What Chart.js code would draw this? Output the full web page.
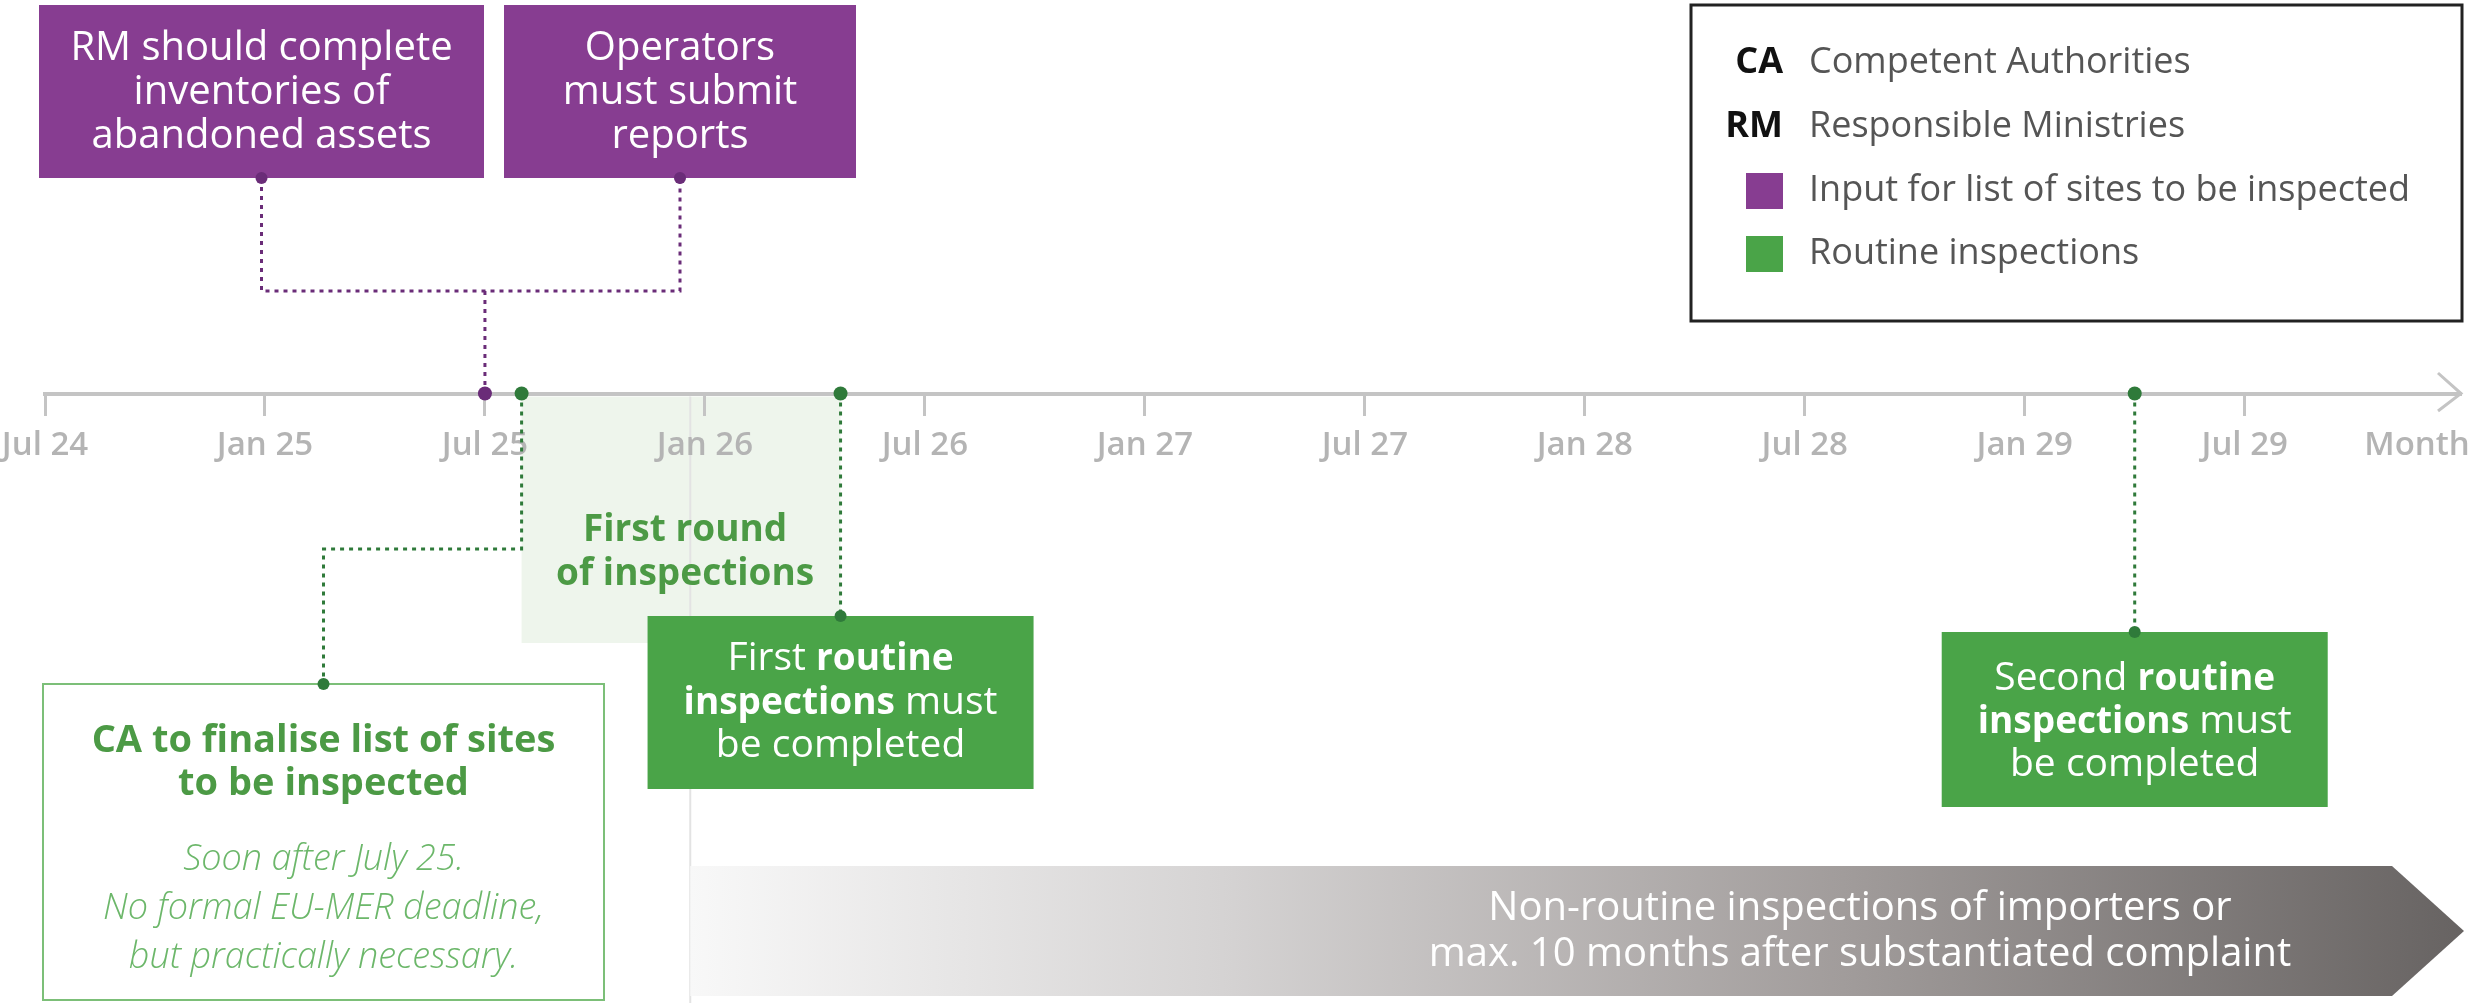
<!DOCTYPE html>
<html>
<head>
<meta charset="utf-8">
<script src="https://cdn.jsdelivr.net/npm/chart.js@4.4.1/dist/chart.umd.min.js"></script>
<style>
  html, body { margin: 0; padding: 0; background: #fff; }
  canvas { display: block; }
</style>
</head>
<body>
<canvas id="timeline" width="2471" height="1003"></canvas>
<script>
// months counted from July 2024
const tickMonths = [0, 6, 12, 18, 24, 30, 36, 42, 48, 54, 60];
const tickLabels = ["Jul 24", "Jan 25", "Jul 25", "Jan 26", "Jul 26", "Jan 27", "Jul 27", "Jan 28", "Jul 28", "Jan 29", "Jul 29"];
const axisTitle = "Month";
const axisTitleAt = 64.7;
const axisEnd = 65.9;

const inputMilestones = [12];              // Jul 25
const routineMilestones = [13, 21.7, 57];  // list finalised, 1st and 2nd routine rounds
const firstRound = [13, 21.7];
const nonRoutineFrom = 17.6;

const inventoryNote = ["RM should complete", "inventories of", "abandoned assets"];
const reportNote = ["Operators", "must submit", "reports"];
const listNoteTitle = ["CA to finalise list of sites", "to be inspected"];
const listNoteBody = ["Soon after July 25.", "No formal EU-MER deadline,", "but practically necessary."];
const firstRoundLabel = ["First round", "of inspections"];
const firstRoutineNote = [[["First ", 0], ["routine", 1]], [["inspections", 1], [" must", 0]], [["be completed", 0]]];
const secondRoutineNote = [[["Second ", 0], ["routine", 1]], [["inspections", 1], [" must", 0]], [["be completed", 0]]];
const nonRoutineNote = ["Non-routine inspections of importers or", "max. 10 months after substantiated complaint"];

const legendAbbrevs = ["CA", "RM"];
const legendAbbrevText = ["Competent Authorities", "Responsible Ministries"];
const legendSwatchText = ["Input for list of sites to be inspected", "Routine inspections"];

const FONT = '"Open Sans", "Noto Sans", sans-serif';
const purple = "#873d91";
const purpleDot = "#6a2c78";
const green = "#4aa448";
const greenDot = "#2f7a3a";
const greenText = "#4c9a45";
const greenSoft = "#6cb76a";

function f(size, weight, style) {
  return (style || "") + " " + (weight || 400) + " " + size + "px " + FONT;
}

function textLines(ctx, arr, cx, ys, font, color) {
  ctx.font = font;
  ctx.fillStyle = color;
  ctx.textAlign = "center";
  ctx.textBaseline = "middle";
  arr.forEach((t, i) => ctx.fillText(t, cx, ys[i]));
}

// lines made of [text, bold] parts, centred on cx
function richLines(ctx, arr, cx, ys, color) {
  const fontOf = p => p[1] ? f(37, 700) : f(39, 400);
  ctx.fillStyle = color;
  ctx.textAlign = "left";
  ctx.textBaseline = "middle";
  arr.forEach((parts, i) => {
    let total = 0;
    parts.forEach(p => { ctx.font = fontOf(p); total += ctx.measureText(p[0]).width; });
    let xx = cx - total / 2;
    parts.forEach(p => {
      ctx.font = fontOf(p);
      ctx.fillText(p[0], xx, ys[i]);
      xx += ctx.measureText(p[0]).width;
    });
  });
}

function dotted(ctx, pts, color) {
  ctx.save();
  ctx.strokeStyle = color;
  ctx.lineWidth = 3;
  ctx.setLineDash([4, 5]);
  ctx.beginPath();
  pts.forEach((p, i) => i ? ctx.lineTo(p[0], p[1]) : ctx.moveTo(p[0], p[1]));
  ctx.stroke();
  ctx.restore();
}

function dot(ctx, x, y, color) {
  ctx.fillStyle = color;
  ctx.beginPath();
  ctx.arc(x, y, 6, 0, Math.PI * 2);
  ctx.fill();
}

const decor = {
  id: "decor",
  beforeDraw(chart) {
    const { ctx, scales: { x, y } } = chart;
    const y0 = y.getPixelForValue(0);
    ctx.save();
    // first round band
    const a = x.getPixelForValue(firstRound[0]);
    const b = x.getPixelForValue(firstRound[1]);
    ctx.fillStyle = "#eef5ec";
    ctx.fillRect(a, y0 + 3, b - a, 643 - y0 - 3);
    // guide for non-routine start
    const n = x.getPixelForValue(nonRoutineFrom);
    ctx.strokeStyle = "#e3e3e3";
    ctx.lineWidth = 2;
    ctx.beginPath();
    ctx.moveTo(n, y0 + 3);
    ctx.lineTo(n, 1003);
    ctx.stroke();
    // non-routine arrow
    const grad = ctx.createLinearGradient(n, 0, 2464, 0);
    grad.addColorStop(0, "#f8f8f8");
    grad.addColorStop(0.3, "#d5d3d3");
    grad.addColorStop(0.65, "#a19c9b");
    grad.addColorStop(1, "#676362");
    ctx.fillStyle = grad;
    ctx.beginPath();
    ctx.moveTo(n, 866);
    ctx.lineTo(2392, 866);
    ctx.lineTo(2464, 931);
    ctx.lineTo(2392, 996);
    ctx.lineTo(n, 996);
    ctx.closePath();
    ctx.fill();
    textLines(ctx, nonRoutineNote, 1860, [909, 955], f(40, 400), "#ffffff");
    ctx.restore();
  },
  beforeDatasetsDraw(chart) {
    const { ctx, scales: { x, y } } = chart;
    const y0 = y.getPixelForValue(0);
    ctx.save();

    // axis arrow head
    ctx.strokeStyle = "#c4c4c4";
    ctx.lineWidth = 3;
    ctx.beginPath();
    ctx.moveTo(2438, 373);
    ctx.lineTo(2461, y0);
    ctx.lineTo(2438, 411);
    ctx.stroke();

    // purple input boxes
    const boxes = [[39, 484, inventoryNote], [504, 856, reportNote]];
    const px = x.getPixelForValue(inputMilestones[0]);
    const c1 = (boxes[0][0] + boxes[0][1]) / 2;
    const c2 = (boxes[1][0] + boxes[1][1]) / 2;
    dotted(ctx, [[c1, 178], [c1, 291], [c2, 291], [c2, 178]], purpleDot);
    dotted(ctx, [[px, 291], [px, y0]], purpleDot);
    boxes.forEach(bx => {
      ctx.fillStyle = purple;
      ctx.fillRect(bx[0], 5, bx[1] - bx[0], 173);
      textLines(ctx, bx[2], (bx[0] + bx[1]) / 2, [49, 93, 137], f(40, 400), "#ffffff");
    });
    dot(ctx, c1, 178, purpleDot);
    dot(ctx, c2, 178, purpleDot);

    // CA list box
    const gx = x.getPixelForValue(routineMilestones[0]);
    const lc = (43 + 604) / 2;
    dotted(ctx, [[gx, y0], [gx, 549], [lc, 549], [lc, 684]], greenDot);
    ctx.strokeStyle = "#7cbf78";
    ctx.lineWidth = 2;
    ctx.strokeRect(43, 684, 561, 316);
    dot(ctx, lc, 684, greenDot);
    textLines(ctx, listNoteTitle, lc, [741, 784], f(38, 700), greenText);
    textLines(ctx, listNoteBody, lc, [860, 909, 958], f(36, 300, "italic"), greenSoft);

    // first round label
    textLines(ctx, firstRoundLabel, x.getPixelForValue((firstRound[0] + firstRound[1]) / 2) + 4, [530, 574], f(37, 700), greenText);

    // routine boxes
    const notes = [[routineMilestones[1], 616, 789, firstRoutineNote, [659, 703, 746]],
                   [routineMilestones[2], 632, 807, secondRoutineNote, [679, 722, 765]]];
    notes.forEach(nt => {
      const cx = x.getPixelForValue(nt[0]);
      dotted(ctx, [[cx, y0], [cx, nt[1]]], greenDot);
      ctx.fillStyle = green;
      ctx.fillRect(cx - 193, nt[1], 386, nt[2] - nt[1]);
      richLines(ctx, nt[3], cx, nt[4], "#ffffff");
      dot(ctx, cx, nt[1], greenDot);
    });

    // legend
    ctx.strokeStyle = "#222";
    ctx.lineWidth = 3;
    ctx.strokeRect(1691, 5, 771, 316);
    ctx.textBaseline = "middle";
    legendAbbrevs.forEach((ab, i) => {
      const ly = [63, 127][i];
      ctx.font = f(36, 700);
      ctx.fillStyle = "#111";
      ctx.textAlign = "right";
      ctx.fillText(ab, 1783, ly);
      ctx.font = f(36, 400);
      ctx.fillStyle = "#555";
      ctx.textAlign = "left";
      ctx.fillText(legendAbbrevText[i], 1809, ly);
    });
    [purple, green].forEach((col, i) => {
      const ly = [191, 254][i];
      ctx.fillStyle = col;
      ctx.fillRect(1746, ly - 18, 37, 36);
      ctx.font = f(36, 400);
      ctx.fillStyle = "#555";
      ctx.textAlign = "left";
      ctx.fillText(legendSwatchText[i], 1809, ly);
    });
    ctx.restore();
  }
};

new Chart(document.getElementById("timeline"), {
  type: "scatter",
  data: {
    datasets: [
      {
        label: legendSwatchText[0],
        data: inputMilestones.map(m => ({ x: m, y: 0 })),
        pointRadius: 7,
        pointBorderWidth: 0,
        pointBackgroundColor: purpleDot
      },
      {
        label: legendSwatchText[1],
        data: routineMilestones.map(m => ({ x: m, y: 0 })),
        pointRadius: 7,
        pointBorderWidth: 0,
        pointBackgroundColor: greenDot
      }
    ]
  },
  options: {
    responsive: false,
    animation: false,
    layout: { padding: { left: 45, right: 10, top: 0, bottom: 0 } },
    plugins: { legend: { display: false }, tooltip: { enabled: false } },
    scales: {
      x: {
        type: "linear",
        min: 0,
        max: axisEnd,
        position: { y: 0 },
        afterBuildTicks: s => { s.ticks = tickMonths.concat([axisTitleAt]).map(v => ({ value: v })); },
        afterFit: s => { s.paddingLeft = 0; s.paddingRight = 0; },
        ticks: {
          autoSkip: false,
          maxRotation: 0,
          padding: 12,
          color: "#b4b4b4",
          font: { family: FONT, size: 33, weight: "600" },
          callback: v => {
            const i = tickMonths.indexOf(v);
            return i >= 0 ? tickLabels[i] : axisTitle;
          }
        },
        grid: {
          drawOnChartArea: false,
          drawTicks: true,
          tickLength: 20,
          tickWidth: 3,
          tickColor: c => (c.tick && c.tick.value === axisTitleAt) ? "rgba(0,0,0,0)" : "#c4c4c4"
        },
        border: { display: true, color: "#c4c4c4", width: 4 }
      },
      y: { type: "linear", min: -611, max: 392, display: false }
    }
  },
  plugins: [decor]
});
</script>
</body>
</html>
